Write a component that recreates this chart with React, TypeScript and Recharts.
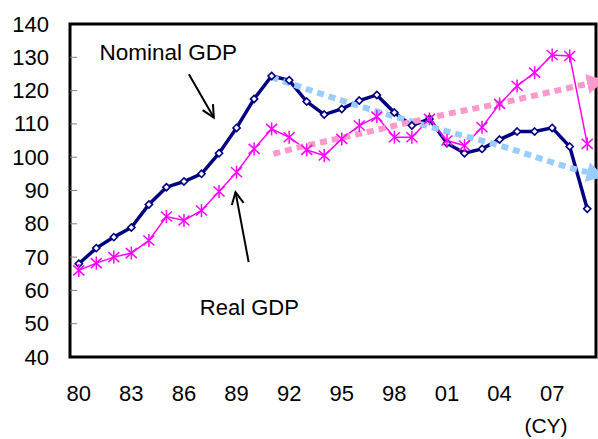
import React from 'react';
import { LineChart, Line, XAxis, YAxis, ReferenceArea, ReferenceDot, Label } from 'recharts';

const years = [1980, 1981, 1982, 1983, 1984, 1985, 1986, 1987, 1988, 1989, 1990, 1991, 1992, 1993, 1994, 1995, 1996, 1997, 1998, 1999, 2000, 2001, 2002, 2003, 2004, 2005, 2006, 2007, 2008, 2009];
const nominalGDP = [68.0, 72.7, 76.0, 78.9, 85.8, 91.0, 92.7, 95.0, 101.2, 108.8, 117.5, 124.4, 123.1, 116.7, 112.8, 114.5, 117.0, 118.7, 113.4, 109.5, 111.5, 104.2, 101.2, 102.5, 105.3, 107.7, 107.7, 108.8, 103.2, 84.5];
const realGDP = [66.0, 68.2, 70.0, 71.2, 75.0, 82.2, 81.0, 84.0, 89.7, 95.5, 102.5, 108.5, 106.0, 102.2, 100.5, 105.5, 109.5, 112.2, 106.0, 106.0, 111.5, 105.0, 103.5, 109.0, 116.0, 121.4, 125.4, 130.7, 130.4, 104.0];

const xTicks = [1980, 1983, 1986, 1989, 1992, 1995, 1998, 2001, 2004, 2007];
const yTicks = [40, 50, 60, 70, 80, 90, 100, 110, 120, 130, 140];
const minorXTicks = years.map((y) => y + 0.5);

// trend arrows (light dotted)
const blueTrendYears = [1991, 1995.5, 2000.2, 2004, 2008.2, 2009];
const blueTrendValues = [124, 116.2, 108.9, 103.5, 96.6, 95.5];
const pinkTrendYears = [1991.1, 1992.6, 1996, 1998.9, 2001.4, 2003.6, 2005.9, 2008.2, 2009];
const pinkTrendValues = [101, 103, 107, 110.5, 113.4, 115.7, 118.4, 121.1, 122.0];

// black annotation arrows (start -> tip)
const nominalArrowYears = [1986.28, 1987.7];
const nominalArrowValues = [124.9, 111.9];
const realArrowYears = [1989.69, 1988.94];
const realArrowValues = [68.5, 89.5];

const FONT = '"Liberation Sans", Arial, sans-serif';

const table = years.map((year, i) => ({ year, nominal: nominalGDP[i], real: realGDP[i] }));
const toRows = (xs: number[], vs: number[]) => xs.map((year, i) => ({ year, v: vs[i] }));
const blueTrend = toRows(blueTrendYears, blueTrendValues);
const pinkTrend = toRows(pinkTrendYears, pinkTrendValues);
const nominalArrow = toRows(nominalArrowYears, nominalArrowValues);
const realArrow = toRows(realArrowYears, realArrowValues);

const NAVY = '#000080';
const MAGENTA = '#ff00ff';

const DiamondDot = (props: any) => {
  const { cx, cy, index } = props;
  if (cx == null || cy == null) return null;
  const s = 3.6;
  return (
    <path
      key={`d${index}`}
      d={`M${cx},${cy - s}L${cx + s},${cy}L${cx},${cy + s}L${cx - s},${cy}Z`}
      fill="#fff"
      stroke={NAVY}
      strokeWidth={1.6}
    />
  );
};

const StarDot = (props: any) => {
  const { cx, cy, index } = props;
  if (cx == null || cy == null) return null;
  return (
    <g key={`s${index}`} stroke={MAGENTA} strokeWidth={1.5}>
      <line x1={cx} y1={cy - 6.5} x2={cx} y2={cy + 6.5} />
      <line x1={cx - 5.5} y1={cy - 5} x2={cx + 5.5} y2={cy + 5} />
      <line x1={cx - 5.5} y1={cy + 5} x2={cx + 5.5} y2={cy - 5} />
    </g>
  );
};

const YTick = (props: any) => {
  const { x, y, payload } = props;
  const v = payload.value;
  return (
    <g>
      <text x={x - 21} y={y} textAnchor="end" dominantBaseline="central" fontSize={22} fontFamily={FONT} fill="#000">
        {v}
      </text>
      {v > 40 && v < 140 && <line x1={x} x2={x + 7} y1={y} y2={y} stroke="#7f7f7f" strokeWidth={1} />}
    </g>
  );
};

const MinorXTick = (props: any) => {
  const { x, y } = props;
  return <line x1={x} x2={x} y1={y} y2={y - 7} stroke="#555" strokeWidth={1} />;
};

const fmtYear = (v: number) => String(v % 100).padStart(2, '0');

const CYLabel = (props: any) => {
  const vb = props.viewBox || {};
  return (
    <text
      x={vb.x + vb.width - 50}
      y={vb.y + 68}
      textAnchor="middle"
      dominantBaseline="central"
      fontSize={21}
      fontFamily={FONT}
      fill="#000"
    >
      (CY)
    </text>
  );
};

export default function App() {
  return (
    <div style={{ position: 'absolute', left: 0, top: 0, width: 598, height: 439, background: '#fff' }}>
      <svg width={0} height={0} style={{ position: 'absolute' }}>
        <defs>
          <marker id="headBlue" viewBox="0 0 18 20" refX={0} refY={10} markerWidth={18} markerHeight={20} markerUnits="userSpaceOnUse" orient="auto">
            <path d="M0,0L18,10L0,20Z" fill="#99ccff" />
          </marker>
          <marker id="headPink" viewBox="0 0 18 20" refX={0} refY={10} markerWidth={18} markerHeight={20} markerUnits="userSpaceOnUse" orient="auto">
            <path d="M0,0L18,10L0,20Z" fill="#ff99cc" />
          </marker>
          <marker id="headBlack" viewBox="0 0 14 14" refX={13} refY={7} markerWidth={14} markerHeight={14} markerUnits="userSpaceOnUse" orient="auto" overflow="visible">
            <path d="M1,1L13,7L1,13" fill="none" stroke="#000" strokeWidth={2} />
          </marker>
        </defs>
      </svg>
      <LineChart width={598} height={439} data={table} margin={{ top: 24, right: 2, bottom: 0, left: 0 }}>
        <XAxis
          xAxisId="minor"
          dataKey="year"
          type="number"
          domain={[1979.5, 2009.5]}
          ticks={minorXTicks}
          interval={0}
          height={0}
          axisLine={false}
          tickLine={false}
          tickSize={0}
          tickMargin={0}
          tick={<MinorXTick />}
        />
        <XAxis
          dataKey="year"
          type="number"
          domain={[1979.5, 2009.5]}
          ticks={xTicks}
          interval={0}
          height={82}
          axisLine={false}
          tickLine={false}
          tickSize={0}
          tickMargin={28}
          tickFormatter={fmtYear}
          tick={{ fontSize: 22, fill: '#000', fontFamily: FONT }}
        >
          <Label content={<CYLabel />} />
        </XAxis>
        <YAxis
          type="number"
          domain={[40, 140]}
          ticks={yTicks}
          interval={0}
          width={70}
          axisLine={false}
          tickLine={false}
          tickSize={0}
          tickMargin={0}
          tick={<YTick />}
        />
        <ReferenceArea x1={1979.5} x2={2009.5} y1={40} y2={140} fill="none" stroke="#000" strokeWidth={3} ifOverflow="visible" />
        <Line
          dataKey="nominal"
          stroke={NAVY}
          strokeWidth={3.5}
          dot={<DiamondDot />}
          activeDot={false}
          isAnimationActive={false}
          legendType="none"
        />
        <Line
          dataKey="real"
          stroke={MAGENTA}
          strokeWidth={1.5}
          dot={<StarDot />}
          activeDot={false}
          isAnimationActive={false}
          legendType="none"
        />
        <Line
          data={blueTrend}
          dataKey="v"
          type="monotone"
          stroke="#99ccff"
          strokeWidth={6}
          strokeDasharray="7 5"
          dot={false}
          activeDot={false}
          markerEnd="url(#headBlue)"
          isAnimationActive={false}
          legendType="none"
        />
        <Line
          data={pinkTrend}
          dataKey="v"
          type="monotone"
          stroke="#ff99cc"
          strokeWidth={6}
          strokeDasharray="7 5"
          dot={false}
          activeDot={false}
          markerEnd="url(#headPink)"
          isAnimationActive={false}
          legendType="none"
        />
        <Line
          data={nominalArrow}
          dataKey="v"
          type="linear"
          stroke="#000"
          strokeWidth={2}
          dot={false}
          activeDot={false}
          markerEnd="url(#headBlack)"
          isAnimationActive={false}
          legendType="none"
        />
        <Line
          data={realArrow}
          dataKey="v"
          type="linear"
          stroke="#000"
          strokeWidth={2}
          dot={false}
          activeDot={false}
          markerEnd="url(#headBlack)"
          isAnimationActive={false}
          legendType="none"
        />
        <ReferenceDot
          x={1985.1}
          y={131.6}
          r={0}
          fill="none"
          stroke="none"
          label={{ value: 'Nominal GDP', position: 'center', fontSize: 22.5, fill: '#000', fontFamily: FONT }}
        />
        <ReferenceDot
          x={1989.73}
          y={55.1}
          r={0}
          fill="none"
          stroke="none"
          label={{ value: 'Real GDP', position: 'center', fontSize: 22, fill: '#000', fontFamily: FONT }}
        />
      </LineChart>
    </div>
  );
}
